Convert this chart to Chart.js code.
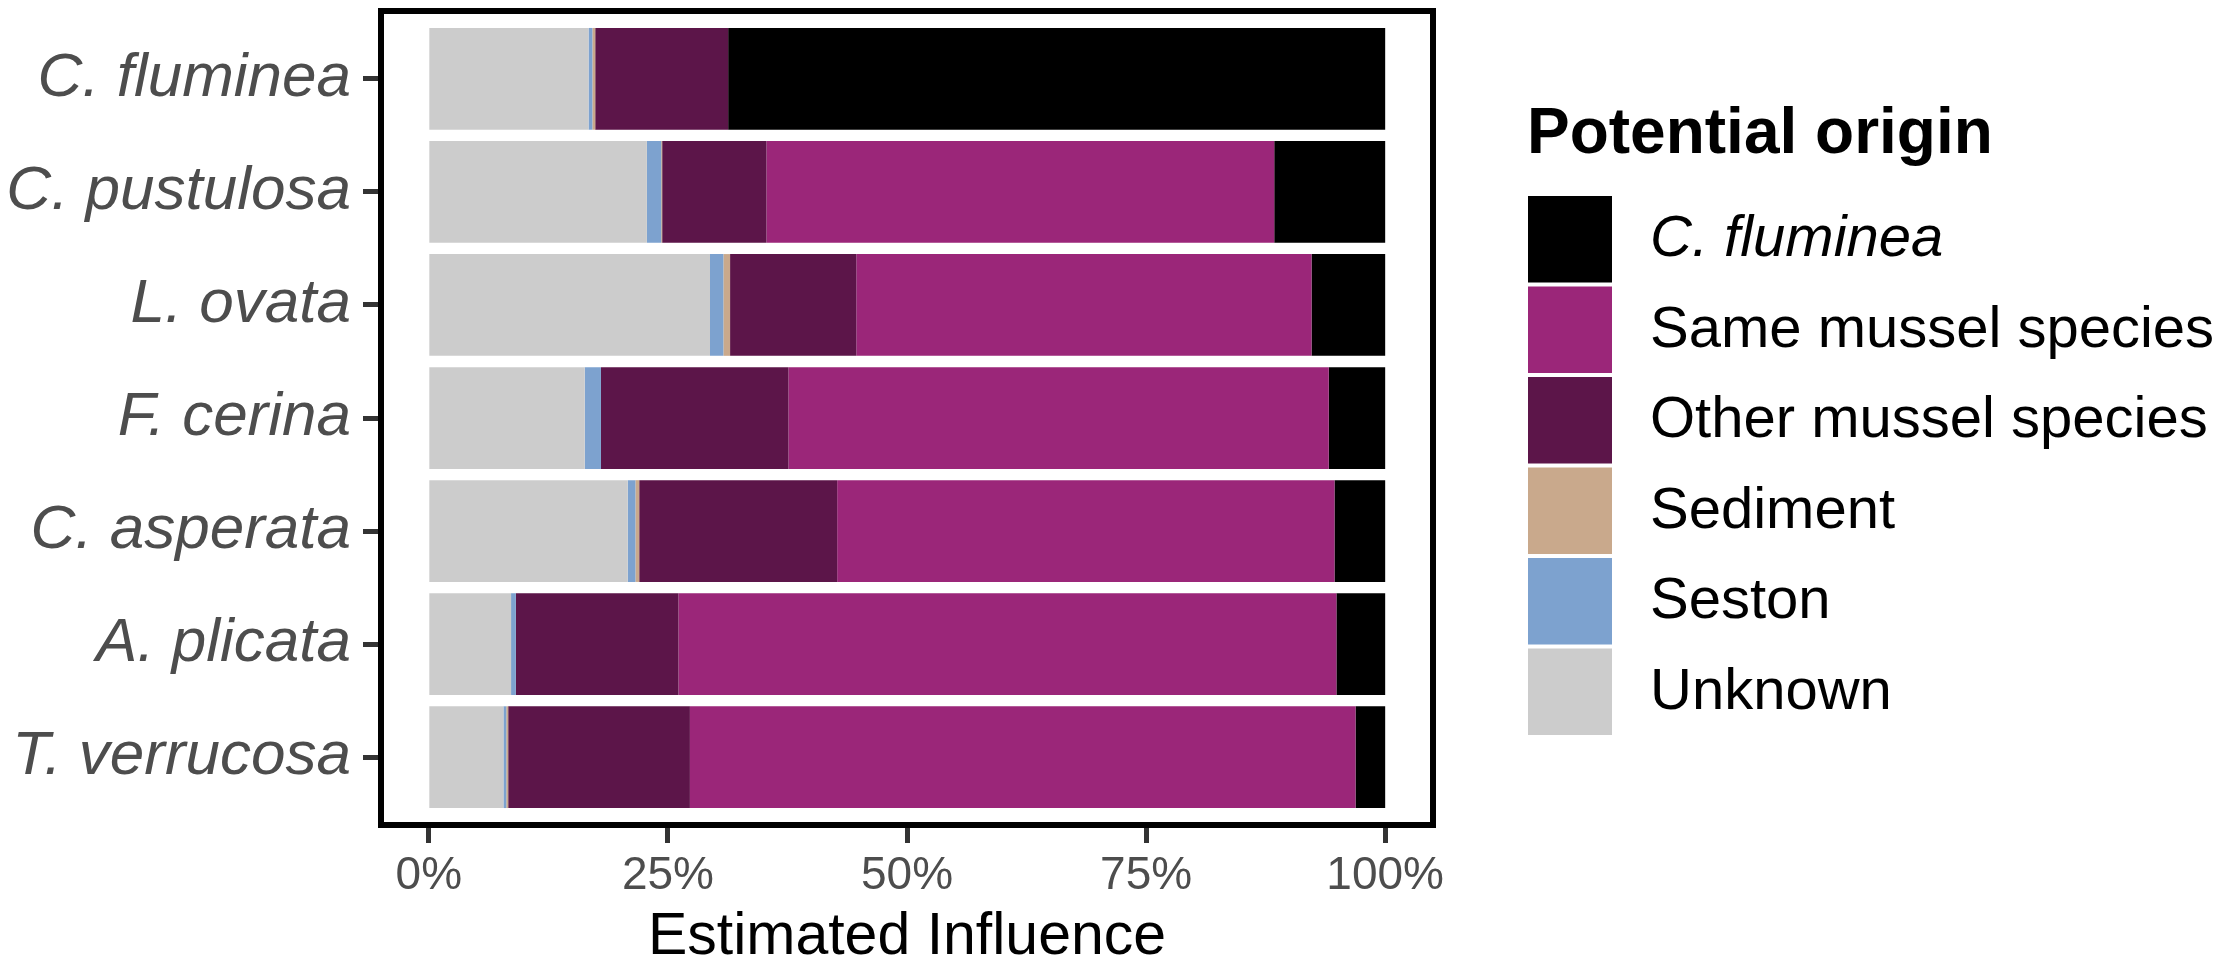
<!DOCTYPE html>
<html><head><meta charset="utf-8">
<script src="https://cdn.jsdelivr.net/npm/chart.js@4.4.0/dist/chart.umd.min.js"></script>
<style>html,body{margin:0;padding:0;background:#fff;overflow:hidden}#wrap{width:2217px;height:967px;position:relative}canvas{display:block}</style>
</head><body><div id="wrap"><canvas id="c" width="2217" height="967" style="width:2217px;height:967px"></canvas></div>
<script>
// categories (top to bottom)
const species = ["C. fluminea","C. pustulosa","L. ovata","F. cerina","C. asperata","A. plicata","T. verrucosa"];
// series values (% of estimated influence), stacked left to right
const unknown     = [16.7, 22.8, 29.4, 16.3, 20.8,  8.6,  7.8];
const seston      = [ 0.4,  1.5,  1.4,  1.7,  0.8,  0.5,  0.3];
const sediment    = [ 0.3,  0.1,  0.7,  0.0,  0.4,  0.0,  0.2];
const otherMussel = [13.9, 10.9, 13.2, 19.6, 20.7, 17.0, 19.0];
const sameMussel  = [ 0.0, 53.1, 47.6, 56.5, 52.0, 68.8, 69.6];
const cFluminea   = [68.7, 11.6,  7.7,  5.9,  5.3,  5.1,  3.1];
// tick labels
const xTicks = [0, 25, 50, 75, 100];
const xTickLabels = ["0%", "25%", "50%", "75%", "100%"];
const legendTitle = "Potential origin";
const axisTitle = "Estimated Influence";

const FONT = "'Liberation Sans', Arial, Helvetica, sans-serif";

const seriesDefs = [
  {label: "Unknown", data: unknown, color: "#CCCCCC"},
  {label: "Seston", data: seston, color: "#7DA2CF"},
  {label: "Sediment", data: sediment, color: "#C9A98C"},
  {label: "Other mussel species", data: otherMussel, color: "#5C1549"},
  {label: "Same mussel species", data: sameMussel, color: "#9B2679"},
  {label: "C. fluminea", data: cFluminea, color: "#000000", italic: true}
];

const datasets = seriesDefs.map(s => ({
  label: s.label,
  italic: !!s.italic,
  data: s.data.map((v, i) => ({x: v, y: i})),
  backgroundColor: s.color,
  borderWidth: 0,
  categoryPercentage: 0.9,
  barPercentage: 1.0
}));

const panelPlugin = {
  id: 'panel',
  afterDatasetsDraw(chart) {
    const ctx = chart.ctx, a = chart.chartArea;
    ctx.save();
    ctx.strokeStyle = '#000';
    ctx.lineWidth = 6;
    ctx.strokeRect(a.left, a.top, a.right - a.left, a.bottom - a.top);
    ctx.restore();
  },
  afterDraw(chart) {
    const ctx = chart.ctx;
    ctx.save();
    ctx.fillStyle = '#000';
    ctx.textBaseline = 'middle';
    ctx.textAlign = 'left';
    ctx.font = "bold 64px " + FONT;
    ctx.fillText(legendTitle, 1527, 135);
    const ds = chart.data.datasets.slice().reverse();
    const keyTop = 194, keyH = 90.5, keyX = 1528, keyW = 84;
    ds.forEach((d, i) => {
      const y = keyTop + i * keyH;
      ctx.fillStyle = d.backgroundColor;
      ctx.fillRect(keyX, y + 2, keyW, keyH - 4);
      ctx.fillStyle = '#000';
      ctx.font = (d.italic ? "italic " : "") + "58px " + FONT;
      ctx.fillText(d.label, 1650, y + keyH / 2 + 1);
    });
    ctx.restore();
  }
};

new Chart(document.getElementById('c'), {
  type: 'bar',
  data: {datasets},
  plugins: [panelPlugin],
  options: {
    indexAxis: 'y',
    responsive: false,
    maintainAspectRatio: false,
    devicePixelRatio: 1,
    animation: false,
    events: [],
    layout: {padding: {left: 0, top: 11, right: 784, bottom: 0}},
    plugins: {legend: {display: false}, tooltip: {enabled: false}},
    scales: {
      x: {
        type: 'linear', stacked: true, min: -5, max: 105, offset: false,
        afterBuildTicks: s => { s.ticks = xTicks.map(v => ({value: v})); },
        afterFit: s => { s.height = 142; s.paddingLeft = 0; s.paddingRight = 0; },
        grid: {offset: false, drawOnChartArea: false, drawTicks: true, tickLength: 18, tickWidth: 5, tickColor: '#333333'},
        border: {display: false},
        ticks: {
          padding: 6, color: '#4D4D4D', font: {family: FONT, size: 46},
          maxRotation: 0, autoSkip: false,
          callback: (v) => xTickLabels[xTicks.indexOf(v)]
        },
        title: {display: true, text: axisTitle, color: '#000', font: {family: FONT, size: 59, lineHeight: 1.0}, padding: {top: 0, bottom: 0}}
      },
      y: {
        type: 'linear', stacked: true, reverse: true, min: -0.6, max: 6.6, offset: false,
        afterBuildTicks: s => { s.ticks = species.map((_, i) => ({value: i})); },
        afterFit: s => { s.width = 381; s.paddingTop = 0; s.paddingBottom = 0; },
        grid: {offset: false, drawOnChartArea: false, drawTicks: true, tickLength: 18, tickWidth: 5, tickColor: '#333333'},
        border: {display: false},
        ticks: {
          padding: 12, color: '#4D4D4D', font: {family: FONT, size: 62, style: 'italic'},
          autoSkip: false,
          callback: (v) => species[v]
        }
      }
    }
  }
});
</script></body></html>
